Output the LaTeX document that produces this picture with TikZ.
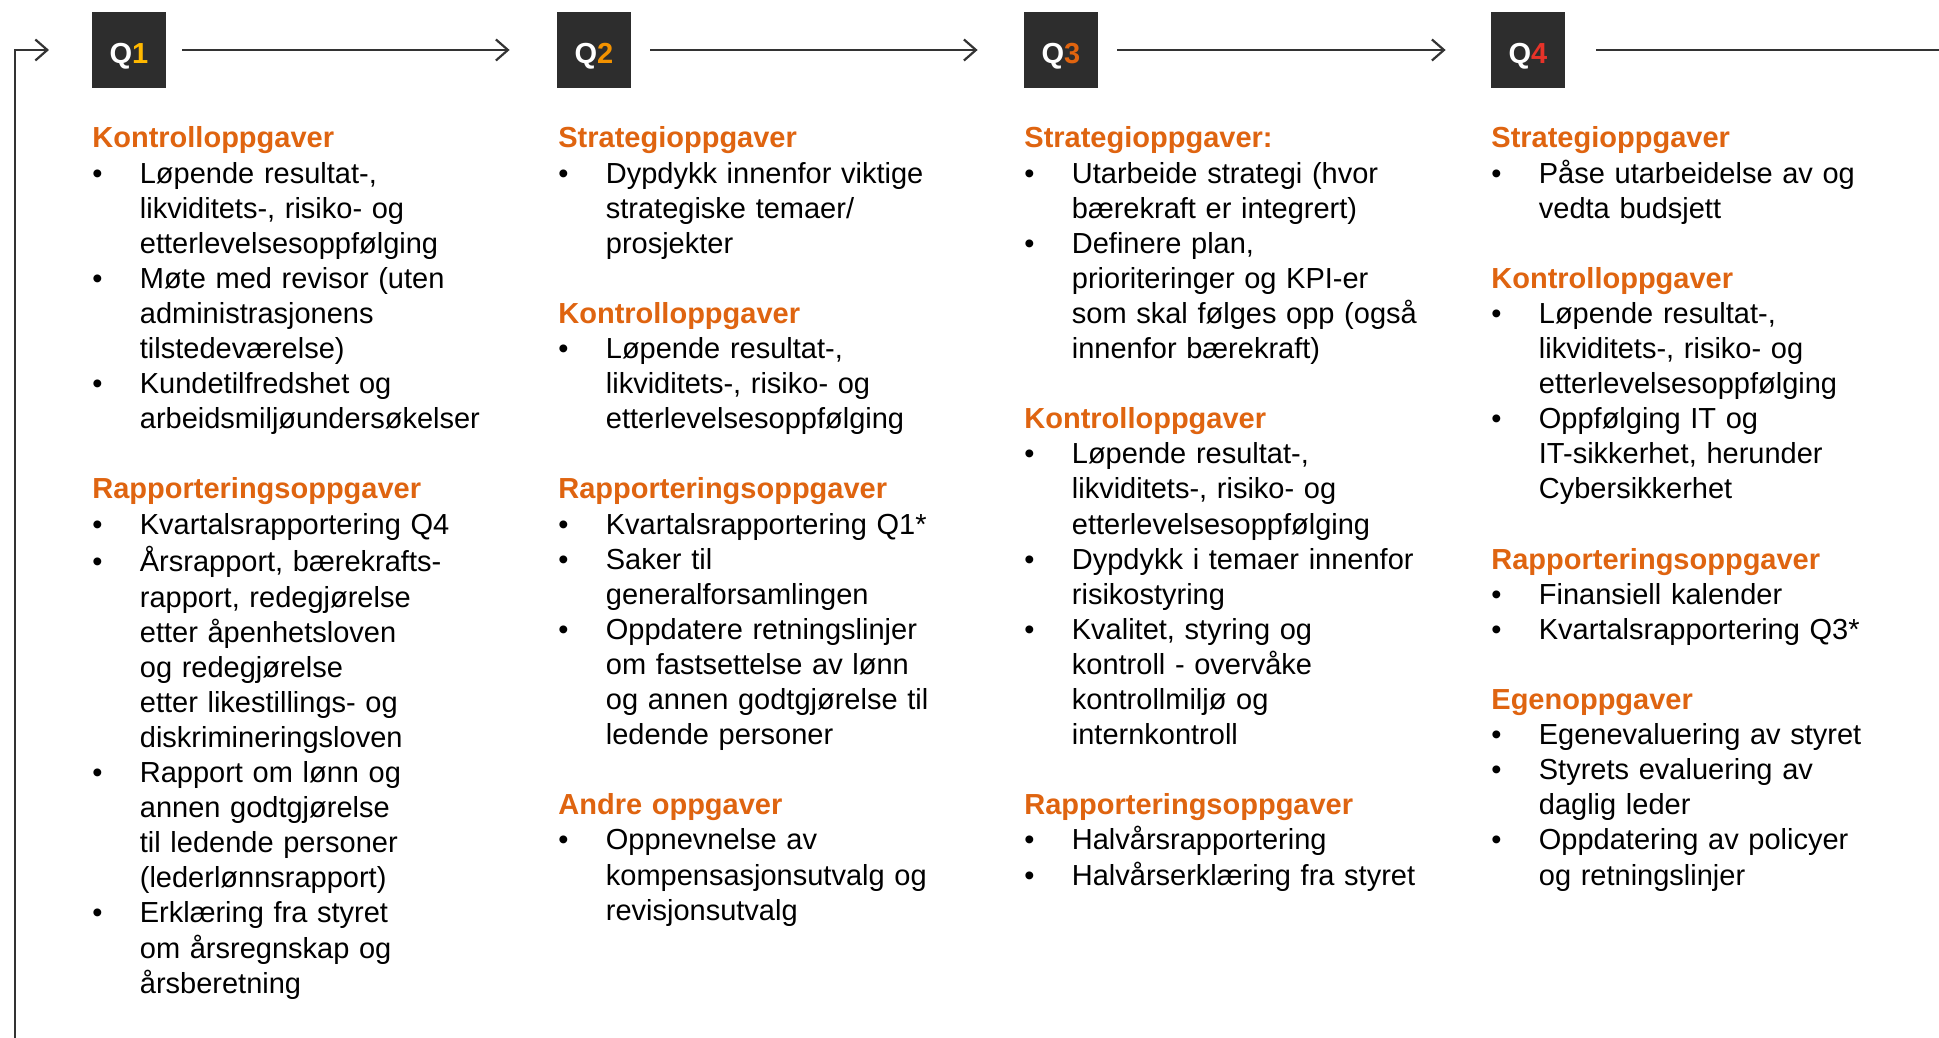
\documentclass[tikz,border=0pt]{standalone}
\usepackage{fontspec}
\setmainfont{Liberation Sans}
\usetikzlibrary{arrows.meta}
\definecolor{hdor}{HTML}{DF6410}
\definecolor{qbg}{HTML}{2D2D2D}
\definecolor{qone}{HTML}{FFB800}
\definecolor{qtwo}{HTML}{F39200}
\definecolor{qthree}{HTML}{E0640F}
\definecolor{qfour}{HTML}{E63329}
\definecolor{ln}{HTML}{333333}
\newcommand\hd[1]{\strut\textbf{\textcolor{hdor}{#1}}}
\newcommand\bu{\strut\makebox[23.75pt][l]{\textbullet}}
\newcommand\ct{\strut\hspace*{23.75pt}}
\newcommand\bl{\strut}
\begin{document}
\begin{tikzpicture}[x=0.5pt,y=-0.5pt,
  qbox/.style={fill=qbg,text=white,minimum width=37pt,minimum height=38pt,inner sep=0pt,text height=14pt,text depth=0pt,font=\fontsize{14.5pt}{17pt}\selectfont\bfseries},
  col/.style={anchor=north west,inner sep=0pt,text width=230pt,align=left,font=\fontsize{14.5pt}{17.55pt}\selectfont},
  arr/.style={draw=ln,line width=1.2pt,-{Straight Barb[length=6pt,width=10.5pt,line width=1.1pt]}},
  plain/.style={draw=ln,line width=1.2pt}]
\useasboundingbox (0,0) rectangle (1939,1038);
\fill[white] (0,0) rectangle (1939,1038);

\node[qbox] (q1) at (129,50) {Q\textcolor{qone}{1}};
\node[qbox] (q2) at (594,50) {Q\textcolor{qtwo}{2}};
\node[qbox] (q3) at (1061,50) {Q\textcolor{qthree}{3}};
\node[qbox] (q4) at (1528,50) {Q\textcolor{qfour}{4}};

\coordinate (lb) at (15,1038);
\coordinate (lt) at (15,50);
\coordinate (le) at (49,50);
\coordinate (re) at (1939,50);
\draw[arr] (lb) -- (lt) -- (le);
\draw[arr] ([xshift=8pt]q1.east) -- ([xshift=-23.5pt]q2.west);
\draw[arr] ([xshift=9.5pt]q2.east) -- ([xshift=-23pt]q3.west);
\draw[arr] ([xshift=9.5pt]q3.east) -- ([xshift=-22.5pt]q4.west);
\draw[plain] ([xshift=15.5pt]q4.east) -- (re);

\node[col] (c1) at (92,123) {%
\hd{Kontrolloppgaver}\\
\bu Løpende resultat-,\\
\ct likviditets-, risiko- og\\
\ct etterlevelsesoppfølging\\
\bu Møte med revisor (uten\\
\ct administrasjonens\\
\ct tilstedeværelse)\\
\bu Kundetilfredshet og\\
\ct arbeidsmiljøundersøkelser\\
\bl\\
\hd{Rapporteringsoppgaver}\\
\bu Kvartalsrapportering Q4\\
\bu Årsrapport, bærekrafts-\\
\ct rapport, redegjørelse\\
\ct etter åpenhetsloven\\
\ct og redegjørelse\\
\ct etter likestillings- og\\
\ct diskrimineringsloven\\
\bu Rapport om lønn og\\
\ct annen godtgjørelse\\
\ct til ledende personer\\
\ct (lederlønnsrapport)\\
\bu Erklæring fra styret\\
\ct om årsregnskap og\\
\ct årsberetning};

\node[col] (c2) at (558,123) {%
\hd{Strategioppgaver}\\
\bu Dypdykk innenfor viktige\\
\ct strategiske temaer/\\
\ct prosjekter\\
\bl\\
\hd{Kontrolloppgaver}\\
\bu Løpende resultat-,\\
\ct likviditets-, risiko- og\\
\ct etterlevelsesoppfølging\\
\bl\\
\hd{Rapporteringsoppgaver}\\
\bu Kvartalsrapportering Q1*\\
\bu Saker til\\
\ct generalforsamlingen\\
\bu Oppdatere retningslinjer\\
\ct om fastsettelse av lønn\\
\ct og annen godtgjørelse til\\
\ct ledende personer\\
\bl\\
\hd{Andre oppgaver}\\
\bu Oppnevnelse av\\
\ct kompensasjonsutvalg og\\
\ct revisjonsutvalg};

\node[col] (c3) at (1024,123) {%
\hd{Strategioppgaver:}\\
\bu Utarbeide strategi (hvor\\
\ct bærekraft er integrert)\\
\bu Definere plan,\\
\ct prioriteringer og KPI-er\\
\ct som skal følges opp (også\\
\ct innenfor bærekraft)\\
\bl\\
\hd{Kontrolloppgaver}\\
\bu Løpende resultat-,\\
\ct likviditets-, risiko- og\\
\ct etterlevelsesoppfølging\\
\bu Dypdykk i temaer innenfor\\
\ct risikostyring\\
\bu Kvalitet, styring og\\
\ct kontroll - overvåke\\
\ct kontrollmiljø og\\
\ct internkontroll\\
\bl\\
\hd{Rapporteringsoppgaver}\\
\bu Halvårsrapportering\\
\bu Halvårserklæring fra styret};

\node[col] (c4) at (1491,123) {%
\hd{Strategioppgaver}\\
\bu Påse utarbeidelse av og\\
\ct vedta budsjett\\
\bl\\
\hd{Kontrolloppgaver}\\
\bu Løpende resultat-,\\
\ct likviditets-, risiko- og\\
\ct etterlevelsesoppfølging\\
\bu Oppfølging IT og\\
\ct IT-sikkerhet, herunder\\
\ct Cybersikkerhet\\
\bl\\
\hd{Rapporteringsoppgaver}\\
\bu Finansiell kalender\\
\bu Kvartalsrapportering Q3*\\
\bl\\
\hd{Egenoppgaver}\\
\bu Egenevaluering av styret\\
\bu Styrets evaluering av\\
\ct daglig leder\\
\bu Oppdatering av policyer\\
\ct og retningslinjer};
\end{tikzpicture}
\end{document}
